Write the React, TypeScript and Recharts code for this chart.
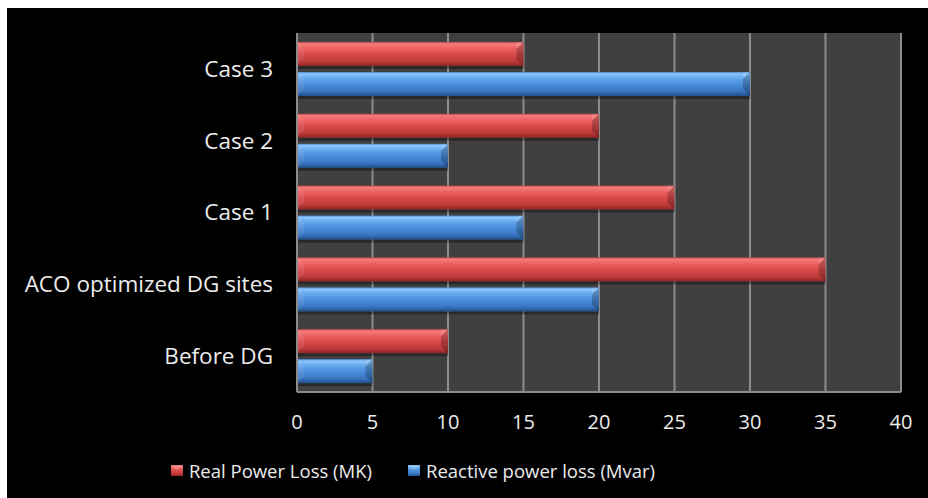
import { BarChart, Bar, XAxis, YAxis, CartesianGrid, Legend } from "recharts";

// Loss figures per scenario, listed top to bottom
const cases = ["Case 3", "Case 2", "Case 1", "ACO optimized DG sites", "Before DG"];
const realPowerLoss = [15, 20, 25, 35, 10];
const reactivePowerLoss = [30, 10, 15, 20, 5];
const xTicks = [0, 5, 10, 15, 20, 25, 30, 35, 40];

const seriesInfo = [
  { key: "real", name: "Real Power Loss (MK)", grad: "gradReal", mid: "#d94a4a" },
  { key: "reactive", name: "Reactive power loss (Mvar)", grad: "gradReactive", mid: "#4a8fdc" },
];

const data = cases.map((c, i) => ({
  category: c,
  real: realPowerLoss[i],
  reactive: reactivePowerLoss[i],
}));

const FONT = "'Open Sans', sans-serif";
const TEXT = "#ececec";
const GRID = "#8c8c8c";

// bevelled bar, like an office chart "cylinder-ish" bar
const makeBevelBar = (grad: string) => (props: any) => {
  const { x, y, width, height } = props;
  if (!width || width <= 0) return null;
  const b = Math.min(7, width / 2, height / 2);
  const r = x + width;
  const bottom = y + height;
  return (
    <g>
      <rect x={x} y={bottom} width={width} height={3} fill="#000" opacity={0.35} />
      <rect x={x} y={y} width={width} height={height} fill={`url(#${grad})`} />
      <polygon
        points={`${r - b},${y + b} ${r},${y} ${r},${bottom} ${r - b},${bottom - b}`}
        fill="#000"
        opacity={0.22}
      />
      <polygon
        points={`${r - b},${y + b} ${r},${y} ${r - b},${y}`}
        fill="#fff"
        opacity={0.12}
      />
      <polygon
        points={`${x},${y} ${x + b},${y + b} ${x + b},${bottom - b} ${x},${bottom}`}
        fill="#fff"
        opacity={0.08}
      />
    </g>
  );
};

const LegendContent = () => (
  <div
    style={{
      display: "flex",
      justifyContent: "center",
      alignItems: "center",
      height: 30,
      marginTop: 3,
      paddingRight: 82,
      fontFamily: FONT,
      fontSize: 18.5,
      color: TEXT,
    }}
  >
    {seriesInfo.map((s, i) => (
      <div key={s.key} style={{ display: "flex", alignItems: "center", marginLeft: i ? 36 : 0 }}>
        <svg width={12} height={11} style={{ marginRight: 6 }}>
          <rect x={0} y={0} width={12} height={11} fill={`url(#${s.grad}L)`} />
          <polygon points="0,0 12,0 6,5.5" fill="#fff" opacity={0.18} />
        </svg>
        <span>{s.name}</span>
      </div>
    ))}
  </div>
);

const GradientDefs = ({ suffix = "" }: { suffix?: string }) => (
  <defs>
    <linearGradient id={`gradReal${suffix}`} x1="0" y1="0" x2="0" y2="1">
      <stop offset="0%" stopColor="#c94848" />
      <stop offset="8%" stopColor="#f47c7c" />
      <stop offset="22%" stopColor="#ef6767" />
      <stop offset="50%" stopColor="#db4a4a" />
      <stop offset="80%" stopColor="#c13a3a" />
      <stop offset="100%" stopColor="#8c2626" />
    </linearGradient>
    <linearGradient id={`gradReactive${suffix}`} x1="0" y1="0" x2="0" y2="1">
      <stop offset="0%" stopColor="#4d8ed8" />
      <stop offset="8%" stopColor="#8ec6fb" />
      <stop offset="22%" stopColor="#6badf0" />
      <stop offset="50%" stopColor="#4a8fdc" />
      <stop offset="80%" stopColor="#3a76c2" />
      <stop offset="100%" stopColor="#204f8c" />
    </linearGradient>
  </defs>
);

export default function App() {
  return (
    <div
      style={{
        position: "absolute",
        left: 7,
        top: 8,
        width: 921,
        height: 490,
        background: "#000",
        overflow: "hidden",
      }}
    >
      <svg width={0} height={0} style={{ position: "absolute" }}>
        <GradientDefs suffix="L" />
      </svg>
      <BarChart
        width={921}
        height={490}
        data={data}
        layout="vertical"
        margin={{ top: 25, right: 27, left: 0, bottom: 16 }}
        barSize={24}
        barGap={6}
      >
        <GradientDefs />
        <CartesianGrid horizontal={false} stroke={GRID} strokeWidth={2} fill="#404040" fillOpacity={1} />
        <XAxis
          type="number"
          domain={[0, 40]}
          ticks={xTicks}
          interval={0}
          axisLine={{ stroke: GRID, strokeWidth: 2 }}
          tickLine={false}
          tickMargin={17}
          height={60}
          tick={{ fill: TEXT, fontSize: 20, fontFamily: FONT }}
        />
        <YAxis
          type="category"
          dataKey="category"
          width={290}
          axisLine={{ stroke: GRID, strokeWidth: 2 }}
          tickLine={false}
          tickMargin={18}
          interval={0}
          tick={{ fill: TEXT, fontSize: 22.5, fontFamily: FONT }}
        />
        <Legend verticalAlign="bottom" height={30} content={<LegendContent />} />
        {seriesInfo.map((s) => (
          <Bar
            key={s.key}
            dataKey={s.key}
            name={s.name}
            fill={s.mid}
            shape={makeBevelBar(s.grad)}
            isAnimationActive={false}
          />
        ))}
      </BarChart>
    </div>
  );
}
